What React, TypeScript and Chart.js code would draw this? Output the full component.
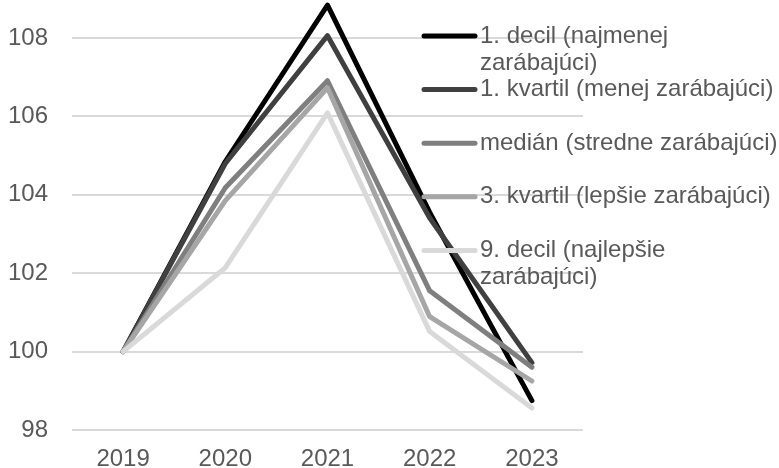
import React, { useEffect, useRef } from "react";
import { Chart, registerables } from "chart.js";

Chart.register(...registerables);

const YEARS = ["2019", "2020", "2021", "2022", "2023"];
const DECIL_1 = [100, 104.85, 108.84, 103.55, 98.75];
const KVARTIL_1 = [100, 104.8, 108.06, 103.41, 99.72];
const MEDIAN = [100, 104.18, 106.91, 101.55, 99.6];
const KVARTIL_3 = [100, 103.85, 106.73, 100.89, 99.25];
const DECIL_9 = [100, 102.14, 106.09, 100.51, 98.56];

const SERIES_LABELS = [
  "1. decil (najmenej\nzarábajúci)",
  "1. kvartil (menej zarábajúci)",
  "medián (stredne zarábajúci)",
  "3. kvartil (lepšie zarábajúci)",
  "9. decil (najlepšie\nzarábajúci)",
];
const SERIES_COLORS = ["#000000", "#404040", "#7f7f7f", "#a6a6a6", "#d9d9d9"];
const Y_TICK_MIN = 98;
const Y_TICK_STEP = 2;

const FONT = "'Liberation Sans', Arial, sans-serif";
const FONT_SIZE = 24;
const TEXT_COLOR = "#595959";

const legendPlugin = {
  id: "customLegend",
  afterDraw(chart: any) {
    const ctx = chart.ctx;
    const x0 = 422;
    const sampleLen = 55;
    const textX = 480;
    let y = 36;
    const step = 53.6;
    const lineH = 27;
    ctx.save();
    ctx.font = `${FONT_SIZE}px ${FONT}`;
    ctx.textBaseline = "middle";
    ctx.textAlign = "left";
    chart.data.datasets.forEach((ds: any, i: number) => {
      ctx.strokeStyle = ds.borderColor;
      ctx.lineWidth = 5;
      ctx.lineCap = "round";
      ctx.beginPath();
      ctx.moveTo(x0 + 2, y);
      ctx.lineTo(x0 + sampleLen - 2, y);
      ctx.stroke();
      ctx.fillStyle = TEXT_COLOR;
      const lines = String(SERIES_LABELS[i]).split("\n");
      lines.forEach((ln, j) => {
        ctx.fillText(ln, textX, y + j * lineH);
      });
      y += step;
    });
    ctx.restore();
  },
};

export default function App() {
  const ref = useRef<HTMLCanvasElement | null>(null);
  useEffect(() => {
    if (!ref.current) return;
    const series = [DECIL_1, KVARTIL_1, MEDIAN, KVARTIL_3, DECIL_9];
    const chart = new Chart(ref.current, {
      type: "line",
      data: {
        labels: YEARS,
        datasets: series.map((d, i) => ({
          label: SERIES_LABELS[i].replace("\n", " "),
          data: d,
          borderColor: SERIES_COLORS[i],
          backgroundColor: SERIES_COLORS[i],
          borderWidth: 5,
          pointRadius: 0,
          pointHoverRadius: 0,
          tension: 0,
          borderJoinStyle: "round" as const,
          borderCapStyle: "round" as const,
          order: series.length - i,
          fill: false,
        })),
      },
      options: {
        responsive: false,
        animation: false,
        devicePixelRatio: 1,
        layout: { padding: { left: 0, right: 196, top: 0, bottom: 0 } },
        plugins: {
          legend: { display: false },
          tooltip: { enabled: false },
          title: { display: false },
        },
        scales: {
          x: {
            offset: true,
            grid: { display: false, drawTicks: false },
            border: { display: false },
            ticks: {
              color: TEXT_COLOR,
              font: { family: FONT, size: FONT_SIZE },
              padding: 15,
              maxRotation: 0,
              autoSkip: false,
            },
            afterFit: (s: any) => {
              s.height = 38;
              s.paddingLeft = 0;
              s.paddingRight = 0;
            },
          },
          y: {
            min: Y_TICK_MIN,
            max: 108.97,
            grid: { color: "#d9d9d9", lineWidth: 2, drawTicks: false },
            border: { display: false },
            ticks: {
              stepSize: Y_TICK_STEP,
              includeBounds: false,
              color: TEXT_COLOR,
              font: { family: FONT, size: FONT_SIZE },
              padding: 24,
              callback: (v: any) => String(v),
            },
            afterFit: (s: any) => {
              s.width = 72;
              s.paddingTop = 0;
              s.paddingBottom = 0;
            },
          },
        },
      },
      plugins: [legendPlugin],
    });
    return () => chart.destroy();
  }, []);
  return (
    <div style={{ position: "absolute", left: 0, top: 0, width: 779, height: 468, background: "#fff" }}>
      <canvas ref={ref} width={779} height={468} style={{ display: "block" }} />
    </div>
  );
}
